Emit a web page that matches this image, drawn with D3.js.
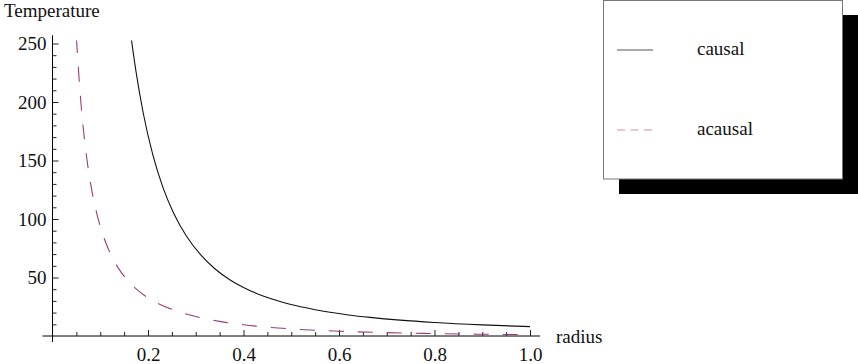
<!DOCTYPE html>
<html>
<head>
<meta charset="utf-8">
<script src="https://cdn.jsdelivr.net/npm/d3@7"></script>
<style>
  html, body { margin: 0; padding: 0; background: #fff; }
  svg { display: block; }
  text { font-family: "Liberation Serif", "Times New Roman", serif; fill: #111; }
</style>
</head>
<body>
<svg id="chart" width="858" height="364"></svg>
<script>
// ---- data ----
const causalR = [0.165, 0.175, 0.19, 0.21, 0.232, 0.253, 0.28, 0.31, 0.34, 0.372, 0.40, 0.441, 0.48, 0.511, 0.55, 0.581, 0.62, 0.665, 0.728, 0.80, 0.90, 1.00];
const causalT = [254, 225.8, 190.6, 155, 126.2, 105.6, 85.7, 69.5, 57.5, 47.9, 41.5, 34.2, 29.1, 25.8, 22.5, 20.3, 18.0, 15.9, 13.55, 11.56, 9.52, 8.0];

const acausalR = [0.05, 0.06, 0.07, 0.08, 0.09, 0.10, 0.12, 0.14, 0.16, 0.18, 0.20, 0.22, 0.25, 0.30, 0.35, 0.40, 0.45, 0.50, 0.60, 0.70, 0.80, 0.90, 1.00];
const acausalT = [255, 196.8, 157.6, 129.8, 109.3, 93.6, 71.5, 56.7, 46.3, 38.6, 32.7, 28.1, 22.75, 16.6, 12.5, 9.63, 7.56, 6.06, 4.09, 2.85, 2.05, 1.5, 1.15];

const xMajorTicks = [0.2, 0.4, 0.6, 0.8, 1.0];
const xMinorTicks = [0.05, 0.1, 0.15, 0.25, 0.3, 0.35, 0.45, 0.5, 0.55, 0.65, 0.7, 0.75, 0.85, 0.9, 0.95];
const yMajorTicks = [50, 100, 150, 200, 250];
const yMinorTicks = [10, 20, 30, 40, 60, 70, 80, 90, 110, 120, 130, 140, 160, 170, 180, 190, 210, 220, 230, 240];

const seriesNames = ["causal", "acausal"];
const xLabel = "radius";
const yLabel = "Temperature";

// ---- layout ----
const svg = d3.select("#chart");
const x = d3.scaleLinear().domain([0, 1]).range([52.5, 530]);
const y = d3.scaleLinear().domain([0, 250]).range([336, 43.5]);
const xExt = [-0.021, 1.021];
const yExt = [-5.2, 257];
const fs = 19;

// clip region for curves
svg.append("defs").append("clipPath").attr("id", "plotclip")
  .append("rect")
  .attr("x", x(xExt[0])).attr("y", y(252.5))
  .attr("width", x(xExt[1]) - x(xExt[0])).attr("height", y(yExt[0]) - y(252.5));

// axes lines
svg.append("line")
  .attr("x1", x(xExt[0])).attr("x2", x(xExt[1]))
  .attr("y1", y(0)).attr("y2", y(0))
  .attr("stroke", "#000").attr("stroke-width", 1);
svg.append("line")
  .attr("x1", x(0)).attr("x2", x(0))
  .attr("y1", y(yExt[0])).attr("y2", y(yExt[1]))
  .attr("stroke", "#000").attr("stroke-width", 1);

// axes ticks
const gxMaj = svg.append("g").attr("transform", `translate(0,${y(0)})`)
  .call(d3.axisBottom(x).tickValues(xMajorTicks).tickFormat(d3.format(".1f"))
    .tickSize(-6).tickPadding(11.5));
const gxMin = svg.append("g").attr("transform", `translate(0,${y(0)})`)
  .call(d3.axisBottom(x).tickValues(xMinorTicks).tickFormat("").tickSize(-4));
const gyMaj = svg.append("g").attr("transform", `translate(${x(0)},0)`)
  .call(d3.axisLeft(y).tickValues(yMajorTicks).tickFormat(d3.format("d"))
    .tickSize(-6).tickPadding(6));
const gyMin = svg.append("g").attr("transform", `translate(${x(0)},0)`)
  .call(d3.axisLeft(y).tickValues(yMinorTicks).tickFormat("").tickSize(-4));

[gxMaj, gxMin, gyMaj, gyMin].forEach(g => {
  g.select(".domain").remove();
  g.selectAll(".tick line").attr("stroke", "#222").attr("stroke-width", 1);
  g.selectAll("text")
    .style("font-family", '"Liberation Serif", "Times New Roman", serif')
    .style("font-size", fs + "px").attr("fill", "#111");
});

// axis labels
svg.append("text").attr("x", 4).attr("y", 17).style("font-size", fs + "px").text(yLabel);
svg.append("text").attr("x", 556).attr("y", 343).style("font-size", fs + "px").text(xLabel);

// curves
const line = d3.line().x(d => x(d[0])).y(d => y(d[1])).curve(d3.curveMonotoneX);
const causal = causalR.map((r, i) => [r, causalT[i]]);
const acausal = acausalR.map((r, i) => [r, acausalT[i]]);

const plot = svg.append("g").attr("clip-path", "url(#plotclip)");
plot.append("path").datum(causal).attr("d", line)
  .attr("fill", "none").attr("stroke", "#111").attr("stroke-width", 1.1);
plot.append("path").datum(acausal).attr("d", line)
  .attr("fill", "none").attr("stroke", "#993d74").attr("stroke-width", 1.1)
  .attr("stroke-dasharray", "15,14");

// legend
const lg = svg.append("g");
lg.append("rect").attr("x", 619).attr("y", 15).attr("width", 240).attr("height", 179).attr("fill", "#000");
lg.append("rect").attr("x", 603.5).attr("y", 0.5).attr("width", 239).attr("height", 178.5)
  .attr("fill", "#fff").attr("stroke", "#777").attr("stroke-width", 1);
const legendY = [50, 130];
const legendStyles = [
  { color: "#555", dash: null },
  { color: "#c896b4", dash: "8,5.5" }
];
seriesNames.forEach((name, i) => {
  lg.append("line").attr("x1", 617).attr("x2", 653).attr("y1", legendY[i]).attr("y2", legendY[i])
    .attr("stroke", legendStyles[i].color).attr("stroke-width", 1.2)
    .attr("stroke-dasharray", legendStyles[i].dash);
  lg.append("text").attr("x", 697).attr("y", legendY[i] + 5)
    .style("font-size", fs + "px").text(name);
});
</script>
</body>
</html>
